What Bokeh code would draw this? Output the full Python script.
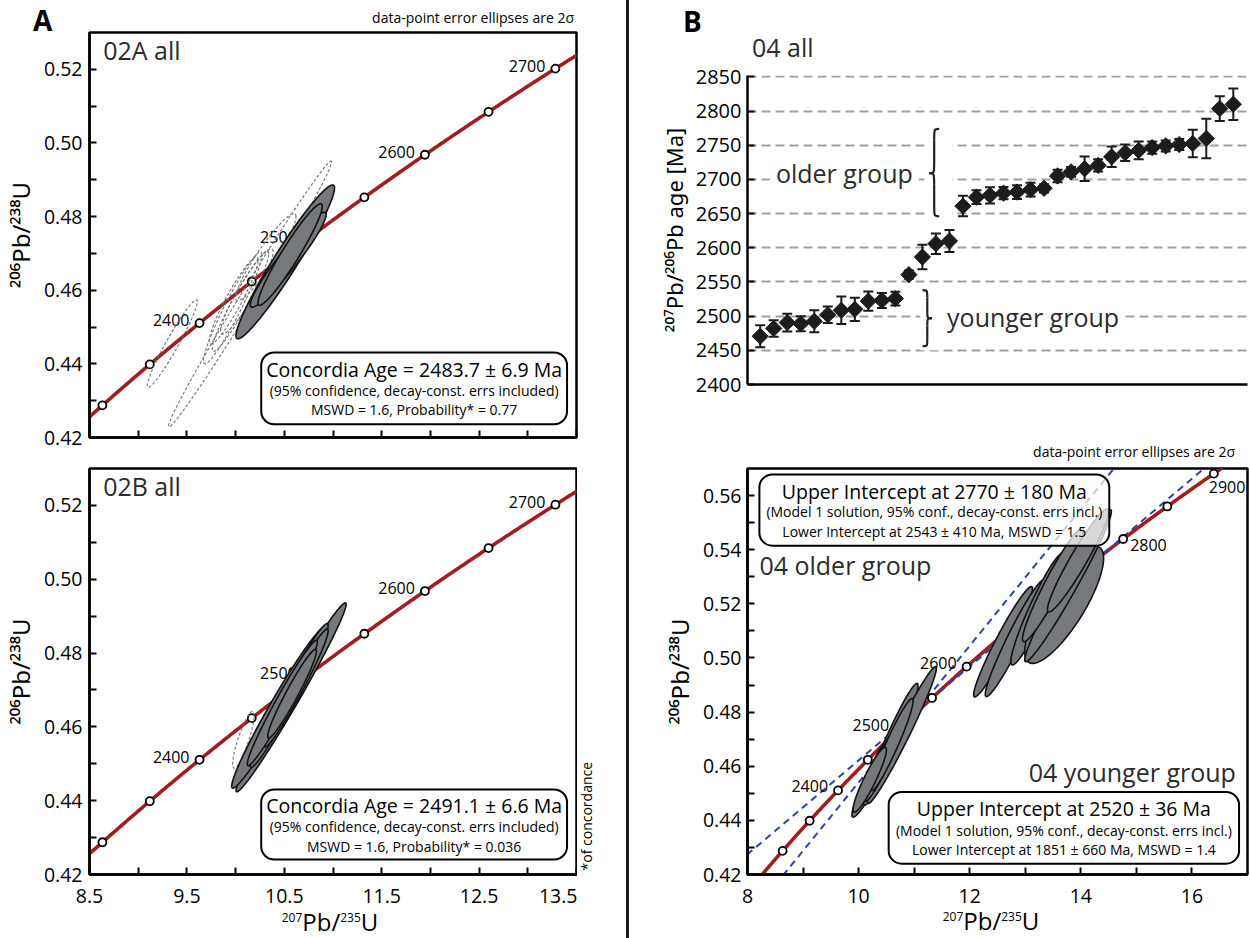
import numpy as np
from bokeh.plotting import figure
from bokeh.models import (ColumnDataSource, Label, BoxAnnotation, FixedTicker,
                          Whisker, TeeHead, Div, Range1d, NumeralTickFormatter)
from bokeh.layouts import row, column
from bokeh.embed import file_html
from bokeh.resources import INLINE
from bokeh.core.properties import value

FONT = "Open Sans"
TFONT = "Noto Sans"
RED = "#a21c20"
BLUE = "#2c44a6"
GRAY = "#76787c"
TXT = "#2b2b2b"

# ---------------- data ----------------
LAMBDA_238 = 1.55125e-10
LAMBDA_235 = 9.8485e-10

marker_ages = [2250, 2300, 2350, 2400, 2450, 2500, 2550, 2600, 2650, 2700,
               2750, 2800, 2850, 2900, 2950]
A_label_ages = [2400, 2500, 2600, 2700]
B_label_ages_left = [2400, 2500, 2600]
B_label_ages_right = [2800]
B_label_ages_below = [2900]

# 02A all: concordant analyses (filled) -- centre, 2-sigma, rho
a_fill_x = [10.51, 10.54, 10.56]
a_fill_y = [0.4677, 0.4683, 0.4697]
a_fill_sx = [0.506, 0.39, 0.33]
a_fill_sy = [0.0209, 0.0129, 0.0138]
a_fill_rho = [0.96, 0.95, 0.95]
# 02A all: excluded analyses (dashed)
a_dash_x = [9.35, 10.149, 9.97, 9.98, 10.05, 10.116, 10.31]
a_dash_y = [0.4455, 0.4590, 0.4552, 0.4572, 0.4570, 0.4597, 0.4690]
a_dash_sx = [0.257, 0.837, 0.30, 0.25, 0.29, 0.27, 0.31]
a_dash_sy = [0.0119, 0.0361, 0.0152, 0.0118, 0.0136, 0.0116, 0.0118]
a_dash_rho = [0.96, 0.994, 0.95, 0.93, 0.95, 0.93, 0.93]

# 02B all
b_fill_x = [10.57, 10.445, 10.55, 10.62, 10.48, 10.58]
b_fill_y = [0.4680, 0.4653, 0.4685, 0.4705, 0.4665, 0.4690]
b_fill_sx = [0.565, 0.485, 0.40, 0.33, 0.36, 0.25]
b_fill_sy = [0.0256, 0.0219, 0.0195, 0.0160, 0.0170, 0.0120]
b_fill_rho = [0.985, 0.975, 0.975, 0.97, 0.975, 0.96]
b_dash_x = [10.08]
b_dash_y = [0.4565]
b_dash_sx = [0.11]
b_dash_sy = [0.0077]
b_dash_rho = [0.85]

# 04: 207Pb/206Pb ages (Ma) with 2-sigma errors, ranked
age04 = [2470.6, 2482, 2490.6, 2489, 2492.5, 2502, 2508.6, 2510, 2522, 2523,
         2525.7, 2560.7, 2586.5, 2606, 2610, 2661, 2674, 2676.7, 2680, 2681.5,
         2685, 2687, 2705, 2711, 2715.6, 2720.5, 2733, 2739, 2742.4, 2746.5,
         2749, 2751, 2752.5, 2759.8, 2803.6, 2810]
err04 = [16, 12, 13, 11, 16, 12, 20, 17, 14, 11,
         10, 6, 18, 15, 16, 15, 10, 12, 9, 10,
         10, 6, 9, 7, 18, 9, 15, 12, 13, 9,
         8, 8, 20, 29, 18, 23]
rank04 = list(range(1, len(age04) + 1))

# 04 younger group ellipses
y_x = [10.34, 10.58, 10.78, 10.45, 10.60, 10.20]
y_y = [0.4591, 0.4681, 0.4715, 0.4620, 0.4680, 0.4550]
y_sx = [0.46, 0.49, 0.62, 0.35, 0.38, 0.30]
y_sy = [0.0179, 0.0225, 0.0253, 0.0150, 0.0170, 0.0120]
y_rho = [0.95, 0.96, 0.975, 0.94, 0.95, 0.92]
# 04 older group ellipses
o_x = [12.60, 12.815, 13.22, 13.70, 13.77, 13.50, 13.95]
o_y = [0.5060, 0.5073, 0.5181, 0.5196, 0.5267, 0.5270, 0.5360]
o_sx = [0.53, 0.535, 0.48, 0.71, 0.78, 0.55, 0.55]
o_sy = [0.0204, 0.0216, 0.0207, 0.0216, 0.0281, 0.0210, 0.0190]
o_rho = [0.96, 0.96, 0.94, 0.80, 0.975, 0.95, 0.95]

# discordia intercepts (Ma)
young_upper, young_lower = 2520, 1851
old_upper, old_lower = 2770, 2543

A_xticks = [8.5, 9.5, 10.5, 11.5, 12.5, 13.5]
A_xminor = [9.0, 10.0, 11.0, 12.0, 13.0]
A_yticks = [0.42, 0.44, 0.46, 0.48, 0.50, 0.52]
A_yminor = [0.43, 0.45, 0.47, 0.49, 0.51]
B_xticks = [8, 10, 12, 14, 16]
B_xminor = [9, 11, 13, 15]
B_yticks = [0.42, 0.44, 0.46, 0.48, 0.50, 0.52, 0.54, 0.56]
B_yminor = [0.43, 0.45, 0.47, 0.49, 0.51, 0.53, 0.55]
age_ticks = [2400, 2450, 2500, 2550, 2600, 2650, 2700, 2750, 2800, 2850]


# ---------------- helpers ----------------
def cx(age):
    return np.exp(LAMBDA_235 * np.asarray(age, dtype=float) * 1e6) - 1


def cy(age):
    return np.exp(LAMBDA_238 * np.asarray(age, dtype=float) * 1e6) - 1


def ellipses(xs, ys, sxs, sys, rhos, n=120):
    t = np.linspace(0, 2 * np.pi, n)
    px, py = [], []
    for x0, y0, sx, sy, r in zip(xs, ys, sxs, sys, rhos):
        px.append((x0 + sx * np.cos(t)).tolist())
        py.append((y0 + sy * (r * np.cos(t) + np.sqrt(1 - r * r) * np.sin(t))).tolist())
    return px, py


def style_axis(ax, label_size="19.5px", standoff=7):
    ax.axis_line_width = 2.5
    ax.axis_line_color = "black"
    ax.major_tick_in = 7
    ax.major_tick_out = 0
    ax.minor_tick_in = 7
    ax.minor_tick_out = 0
    ax.major_tick_line_width = 2
    ax.minor_tick_line_width = 2
    ax.major_label_text_font = FONT
    ax.major_label_text_font_size = label_size
    ax.major_label_text_color = "black"
    ax.major_label_standoff = standoff
    ax.axis_label_text_font = TFONT
    ax.axis_label_text_font_size = "24px"
    ax.axis_label_text_font_style = "normal"
    ax.axis_label_text_color = "black"
    ax.axis_label_standoff = 4


def conc_fig(w, h, xr, yr, mb, xt, xm, yt, ym, xfmt, yfmt):
    p = figure(width=w, height=h, x_range=Range1d(*xr), y_range=Range1d(*yr),
               output_backend="svg", toolbar_location=None,
               min_border_left=mb[0], min_border_right=mb[1],
               min_border_top=mb[2], min_border_bottom=mb[3])
    p.xgrid.visible = False
    p.ygrid.visible = False
    p.outline_line_color = "black"
    p.outline_line_width = 2.5
    p.outline_line_alpha = 1
    p.xaxis[0].ticker = FixedTicker(ticks=xt, minor_ticks=xm)
    p.yaxis[0].ticker = FixedTicker(ticks=yt, minor_ticks=ym)
    p.xaxis[0].formatter = NumeralTickFormatter(format=xfmt)
    p.yaxis[0].formatter = NumeralTickFormatter(format=yfmt)
    style_axis(p.xaxis[0], standoff=14)
    style_axis(p.yaxis[0])
    return p


def html_div(w, h, items):
    spans = []
    for html, css in items:
        spans.append(f"<span style=\"position:absolute;font-family:'{FONT}';"
                     f"line-height:1;color:black;white-space:nowrap;{css}\">{html}</span>")
    inner = (f'<div style="position:relative;width:{w}px;height:{h}px;'
             f'overflow:visible;">' + "".join(spans) + "</div>")
    return Div(text=inner, width=w, height=h, margin=0)


def sup(s, size=12, rise=9):
    return (f'<span style="font-size:{size}px;position:relative;top:-{rise}px;">'
            f"{s}</span>")


def draw_concordia(p, label_sets):
    t = np.linspace(2000, 3100, 500)
    p.line(cx(t), cy(t), line_color=RED, line_width=3.6)
    p.scatter(cx(marker_ages), cy(marker_ages), size=8, fill_color="white",
              line_color="black", line_width=1.8)
    for ages, align, xo, yo in label_sets:
        src = ColumnDataSource(dict(x=cx(ages), y=cy(ages), t=[str(a) for a in ages]))
        p.text("x", "y", text="t", source=src, text_font=value(FONT),
               text_font_size=value("16px"), text_align=align,
               text_baseline="middle", x_offset=xo, y_offset=yo, text_color="black")


def draw_ellipses(p, data, dashed=False):
    px, py = ellipses(*data)
    if dashed:
        p.patches(px, py, fill_color=None, line_color="#707070", line_width=1.1,
                  line_dash="3 2")
    else:
        p.patches(px, py, fill_color=GRAY, fill_alpha=1, line_color="#111111",
                  line_width=1.6)


def text_box(p, left, right, bottom, top, lines, xc, ys, sizes, alpha=1.0):
    p.add_layout(BoxAnnotation(left=left, right=right, bottom=bottom, top=top,
                               fill_color="white", fill_alpha=alpha,
                               line_color="black", line_alpha=1, line_width=2,
                               border_radius=13))
    for txt, yy, sz in zip(lines, ys, sizes):
        p.add_layout(Label(x=xc, y=yy, text=txt, text_font=FONT, text_font_size=sz,
                           text_align="center", text_baseline="middle",
                           text_color="black"))


def lab(p, x, y, text, size, align="left", color="black", **kw):
    p.add_layout(Label(x=x, y=y, text=text, text_font=FONT, text_font_size=size,
                       text_align=align, text_baseline="middle", text_color=color, **kw))


Y_TITLE = "\u00b2\u2070\u2076Pb/\u00b2\u00b3\u2078U"
AGE_TITLE = "\u00b2\u2070\u2077Pb/\u00b2\u2070\u2076Pb age [Ma]"
X_TITLE_HTML = sup("207") + "Pb/" + sup("235") + "U"

# ---------------- panel A header ----------------
hdrA = html_div(626, 31, [
    ("A", "left:33px;top:6px;font-size:28px;font-weight:bold;"),
    ("data-point error ellipses are 2&sigma;", "right:52px;top:10.5px;font-size:14px;"),
])

# ---------------- panel A top ----------------
A1 = conc_fig(626, 419, (8.5, 13.5), (0.42, 0.53), (81, 50, 1, 13),
              A_xticks, A_xminor, A_yticks, A_yminor, "0.0", "0.00")
A1.xaxis[0].ticker = FixedTicker(ticks=[], minor_ticks=sorted(A_xticks + A_xminor))
A1.yaxis[0].axis_label = Y_TITLE
draw_concordia(A1, [(A_label_ages, "right", -10, -3)])
draw_ellipses(A1, (a_dash_x, a_dash_y, a_dash_sx, a_dash_sy, a_dash_rho), dashed=True)
draw_ellipses(A1, (a_fill_x, a_fill_y, a_fill_sx, a_fill_sy, a_fill_rho))
lab(A1, 8.64, 0.5253, "02A all", "25px", color=TXT)
text_box(A1, 10.263, 13.403, 0.4236, 0.4431,
         ["Concordia Age = 2483.7 \u00b1 6.9 Ma",
          "(95% confidence, decay-const. errs included)",
          "MSWD = 1.6, Probability* = 0.77"],
         11.833, [0.43834, 0.4329, 0.42773], ["19.5px", "14px", "14px"])

# ---------------- panel A bottom ----------------
A2 = conc_fig(577, 464, (8.5, 13.5), (0.42, 0.53), (81, 1, 18, 40),
              A_xticks, A_xminor, A_yticks, A_yminor, "0.0", "0.00")
A2.yaxis[0].axis_label = Y_TITLE
draw_concordia(A2, [(A_label_ages, "right", -10, -3)])
draw_ellipses(A2, (b_dash_x, b_dash_y, b_dash_sx, b_dash_sy, b_dash_rho), dashed=True)
draw_ellipses(A2, (b_fill_x, b_fill_y, b_fill_sx, b_fill_sy, b_fill_rho))
lab(A2, 8.64, 0.5252, "02B all", "25px", color=TXT)
text_box(A2, 10.263, 13.403, 0.42407, 0.44306,
         ["Concordia Age = 2491.1 \u00b1 6.6 Ma",
          "(95% confidence, decay-const. errs included)",
          "MSWD = 1.6, Probability* = 0.036"],
         11.833, [0.4388, 0.4329, 0.42768], ["19.5px", "14px", "14px"])

# side strip (frame aligned vertically with A2's frame)
sideA = figure(width=49, height=464, x_range=Range1d(0, 49), y_range=Range1d(0.42, 0.53),
               x_axis_type=None, y_axis_type=None, output_backend="svg",
               toolbar_location=None, min_border=0)
sideA.grid.visible = False
sideA.outline_line_color = None
sideA.text(x=[8.5], y=[0.4358], text=["*of concordance"], text_font=value(FONT),
           text_font_size=value("14px"), text_align="center", text_baseline="middle",
           angle=np.pi / 2, text_color="black")

footA = html_div(626, 24, [
    (X_TITLE_HTML, "left:180px;width:300px;text-align:center;top:-4.5px;font-size:24px;"),
])

# ---------------- panel B header ----------------
hdrB = html_div(621, 60, [
    ("B", "left:54px;top:7px;font-size:28px;font-weight:bold;"),
    ("04 all", "left:123px;top:35px;font-size:25px;color:#2b2b2b;"),
])

# ---------------- panel B top ----------------
B1 = figure(width=621, height=360, x_range=Range1d(0.06, 37.05),
            y_range=Range1d(2400, 2852), output_backend="svg", toolbar_location=None,
            min_border_left=118, min_border_right=3, min_border_top=15,
            min_border_bottom=36)
B1.outline_line_color = None
B1.xgrid.visible = False
B1.yaxis[0].ticker = FixedTicker(ticks=age_ticks)
B1.xaxis[0].ticker = FixedTicker(ticks=[])
style_axis(B1.yaxis[0], label_size="20px", standoff=6)
style_axis(B1.xaxis[0])
B1.yaxis[0].axis_label = AGE_TITLE
B1.yaxis[0].axis_label_text_font_size = "22px"
B1.ygrid[0].ticker = FixedTicker(ticks=age_ticks)
B1.ygrid.grid_line_color = "#a0a0a0"
B1.ygrid.grid_line_width = 2
B1.ygrid.grid_line_dash = "9 5"

src04 = ColumnDataSource(dict(x=rank04, y=age04,
                              upper=[a + e for a, e in zip(age04, err04)],
                              lower=[a - e for a, e in zip(age04, err04)]))
B1.add_layout(Whisker(source=src04, base="x", upper="upper", lower="lower",
                      line_width=2, line_color="#1a1a1a",
                      upper_head=TeeHead(size=10, line_width=2, line_color="#1a1a1a"),
                      lower_head=TeeHead(size=10, line_width=2, line_color="#1a1a1a")))
B1.scatter("x", "y", source=src04, marker="square", angle=np.pi / 4, size=11.5,
           fill_color="#1c1c1c", line_color="#1c1c1c")

# braces (white background behind them)
B1.quad(left=[13.2, 12.85], right=[15.2, 14.4], bottom=[2640, 2450], top=[2780, 2545],
        fill_color="white", line_color=None)


def brace(xa, xt, ytop, ybot, ymid):
    xs = (xa + xt) / 2
    h = (ytop - ybot) * 0.13
    segs = [
        (xa, ytop, xs, ytop - h, xs, ytop, xs, ytop),
        (xs, ytop - h, xs, ymid + h, xs, ytop - h, xs, ymid + h),
        (xs, ymid + h, xt, ymid, xs, ymid, xs, ymid),
        (xt, ymid, xs, ymid - h, xs, ymid, xs, ymid),
        (xs, ymid - h, xs, ybot + h, xs, ymid - h, xs, ybot + h),
        (xs, ybot + h, xa, ybot, xs, ybot, xs, ybot),
    ]
    return [list(c) for c in zip(*segs)]


for b in (brace(14.24, 13.50, 2774, 2646, 2709), brace(13.01, 13.71, 2538, 2456, 2497)):
    x0, y0, x1, y1, c0x, c0y, c1x, c1y = b
    B1.bezier(x0=x0, y0=y0, x1=x1, y1=y1, cx0=c0x, cy0=c0y, cx1=c1x, cy1=c1y,
              line_color="#222222", line_width=2.2)

lab(B1, 12.73, 2709, "older group", "25px", align="right", color=TXT,
    background_fill_color="white", padding=6)
lab(B1, 14.38, 2499, "younger group", "25px", align="left", color=TXT,
    background_fill_color="white", padding=6)

# ---------------- panel B bottom header ----------------
hdrB2 = html_div(621, 44, [
    ("data-point error ellipses are 2&sigma;", "right:15px;top:24.5px;font-size:14px;"),
])

# ---------------- panel B bottom ----------------
B2 = conc_fig(621, 450, (8, 17), (0.42, 0.57), (118, 3, 4, 40),
              B_xticks, B_xminor, B_yticks, B_yminor, "0", "0.00")
B2.yaxis[0].axis_label = Y_TITLE
B2.yaxis[0].major_label_standoff = 6
t = np.linspace(2000, 3100, 500)
B2.line(cx(t), cy(t), line_color=RED, line_width=3.6)
for up, lo in ((young_upper, young_lower), (old_upper, old_lower)):
    x1, y1, x2, y2 = float(cx(lo)), float(cy(lo)), float(cx(up)), float(cy(up))
    s = (y2 - y1) / (x2 - x1)
    B2.line([7.0, 18.0], [y1 + s * (7.0 - x1), y1 + s * (18.0 - x1)],
            line_color=BLUE, line_width=2, line_dash="7 5")
B2.scatter(cx(marker_ages), cy(marker_ages), size=8, fill_color="white",
           line_color="black", line_width=1.8)
for ages, align, xo, yo in [(B_label_ages_left, "right", -10, -4),
                            (B_label_ages_right, "left", 7, 6),
                            (B_label_ages_below, "left", -5, 13)]:
    src = ColumnDataSource(dict(x=cx(ages), y=cy(ages), t=[str(a) for a in ages]))
    B2.text("x", "y", text="t", source=src, text_font=value(FONT),
            text_font_size=value("16px"), text_align=align, text_baseline="middle",
            x_offset=xo, y_offset=yo, text_color="black")
draw_ellipses(B2, (y_x, y_y, y_sx, y_sy, y_rho))
draw_ellipses(B2, (o_x, o_y, o_sx, o_sy, o_rho))
lab(B2, 8.214, 0.5344, "04 older group", "25px", color=TXT)
lab(B2, 16.79, 0.4579, "04 younger group", "25px", align="right", color=TXT)
text_box(B2, 8.214, 14.512, 0.5415, 0.5678,
         ["Upper Intercept at 2770 \u00b1 180 Ma",
          "(Model 1 solution, 95% conf., decay-const. errs incl.)",
          "Lower Intercept at 2543 \u00b1 410 Ma, MSWD = 1.5"],
         11.363, [0.5616, 0.5542, 0.5468], ["19.5px", "14px", "14px"], alpha=0.72)
text_box(B2, 10.541, 16.848, 0.4240, 0.4505,
         ["Upper Intercept at 2520 \u00b1 36 Ma",
          "(Model 1 solution, 95% conf., decay-const. errs incl.)",
          "Lower Intercept at 1851 \u00b1 660 Ma, MSWD = 1.4"],
         13.695, [0.4443, 0.4363, 0.4293], ["19.5px", "14px", "14px"])

footB = html_div(621, 24, [
    (X_TITLE_HTML, "left:212px;width:300px;text-align:center;top:-5.5px;font-size:24px;"),
])

divider = Div(text="", width=3, height=938, margin=0,
              styles={"background-color": "#1a1a1a"})

left = column(hdrA, A1, row(A2, sideA, spacing=0), footA, spacing=0)
right = column(hdrB, B1, hdrB2, B2, footB, spacing=0)
layout = row(left, divider, right, spacing=0)
open("out.html", "w").write(file_html(layout, INLINE))
